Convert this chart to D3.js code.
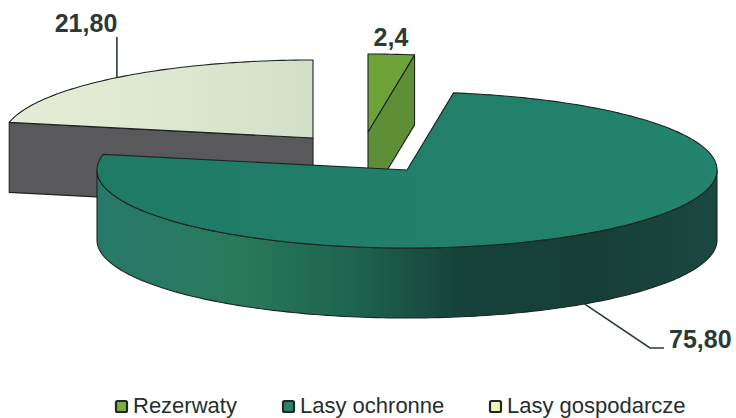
<!DOCTYPE html>
<html>
<head>
<meta charset="utf-8">
<script src="https://cdn.jsdelivr.net/npm/d3@7"></script>
<style>
  html, body { margin: 0; padding: 0; background: #fff; }
  svg { display: block; }
  text { font-family: "Liberation Sans", Arial, sans-serif; }
  .value { font-size: 25px; font-weight: bold; fill: #2a3a34; }
  .legend { font-size: 22px; fill: #24302c; }
</style>
</head>
<body>
<svg width="736" height="418"></svg>
<script>
const categories = ["Rezerwaty", "Lasy ochronne", "Lasy gospodarcze"];
const values = [2.4, 75.8, 21.8];
const valueLabels = ["2,4", "75,80", "21,80"];

const rx = 310, ry = 78, depth = 70;

// where each piece sits after being pulled out of the pie
const centers = [[368, 132], [407, 170], [313, 138]];
const topColors = ["#6da339", "url(#topBig)", "url(#topLight)"];
const wallColors = ["#5e8f37", "url(#wallBig)", "#59585b"];
const legendColors = ["#7fae3c", "#2f8068", "#f3f3b4"];
const legendX = [116, 283, 490];

const svg = d3.select("svg");

const defs = svg.append("defs");
function gradient(id, stops) {
  const g = defs.append("linearGradient").attr("id", id);
  stops.forEach(s => g.append("stop").attr("offset", s[0]).attr("stop-color", s[1]));
}
gradient("topBig", [[0, "#1f7a66"], [0.5, "#217f6a"], [1, "#23836c"]]);
gradient("wallBig", [[0, "#27796a"], [0.22, "#297a5c"], [0.42, "#1e634e"], [0.58, "#16433a"], [0.8, "#163e37"], [1, "#1b4840"]]);
gradient("topLight", [[0, "#e6edd6"], [0.6, "#dde6cf"], [1, "#d3dfc8"]]);

const pieces = d3.pie().sort(null).value(d => d)(values);

// angle 0 is 12 o'clock, going clockwise, squashed into an ellipse
const px = (c, t) => c[0] + rx * Math.sin(t);
const py = (c, t) => c[1] - ry * Math.cos(t);
const line = d3.line();

function arcPoints(c, t0, t1, dy) {
  const n = Math.max(2, Math.ceil(Math.abs(t1 - t0) / 0.02));
  return d3.range(n + 1).map(i => {
    const t = t0 + (t1 - t0) * i / n;
    return [px(c, t), py(c, t) + dy];
  });
}

function drawPiece(i) {
  const c = centers[i], a = pieces[i].startAngle, b = pieces[i].endAngle;
  const g = svg.append("g").attr("stroke", "#1c2422").attr("stroke-width", 1.1).attr("stroke-linejoin", "round");

  // front wall of the outer rim
  const from = Math.max(a, Math.PI / 2), to = Math.min(b, 3 * Math.PI / 2);
  if (to > from) {
    const pts = arcPoints(c, from, to, 0).concat(arcPoints(c, to, from, depth));
    g.append("path").attr("d", line(pts) + "Z").attr("fill", wallColors[i]);
  }
  // cut faces that look towards the viewer
  if (i === 0) {
    const e = [px(c, b), py(c, b)];
    g.append("path").attr("d", line([c, e, [e[0], e[1] + depth], [c[0], c[1] + depth]]) + "Z").attr("fill", wallColors[i]);
  }
  if (i === 2) {
    const s = [px(c, a), py(c, a)];
    g.append("path").attr("d", line([s, c, [c[0], c[1] + depth], [s[0], s[1] + depth]]) + "Z").attr("fill", wallColors[i]);
  }
  g.append("path").attr("d", line(arcPoints(c, a, b, 0).concat([c])) + "Z").attr("fill", topColors[i]);
}

[2, 0, 1].forEach(drawPiece);

// leader lines start at the middle of each slice's rim
const leader = d3.line();
const mid = i => (pieces[i].startAngle + pieces[i].endAngle) / 2;
const lightEdge = [px(centers[2], mid(2)), py(centers[2], mid(2))];
const bigEdge = [px(centers[1], mid(1)), py(centers[1], mid(1)) + depth];
const leaders = [
  [lightEdge, [lightEdge[0], 37]],
  [bigEdge, [650, 348], [664, 348]]
];
svg.selectAll(".leader").data(leaders).enter().append("path")
  .attr("class", "leader")
  .attr("d", d => leader(d))
  .attr("fill", "none").attr("stroke", "#2a3a34").attr("stroke-width", 1.6);

// value labels
const labelPos = [[391, 46, "middle"], [669, 348, "start"], [86, 32, "middle"]];
svg.selectAll(".value").data(valueLabels).enter().append("text")
  .attr("class", "value")
  .attr("x", (d, i) => labelPos[i][0])
  .attr("y", (d, i) => labelPos[i][1])
  .attr("text-anchor", (d, i) => labelPos[i][2])
  .text(d => d);

// legend
const legend = svg.selectAll(".legend-item").data(categories).enter().append("g")
  .attr("class", "legend-item")
  .attr("transform", (d, i) => `translate(${legendX[i]},401)`);
legend.append("rect")
  .attr("width", 11).attr("height", 11).attr("rx", 1.5)
  .attr("fill", (d, i) => legendColors[i])
  .attr("stroke", "#1f2a26").attr("stroke-width", 2.2);
legend.append("text")
  .attr("class", "legend")
  .attr("x", 17).attr("y", 12)
  .text(d => d);
</script>
</body>
</html>
